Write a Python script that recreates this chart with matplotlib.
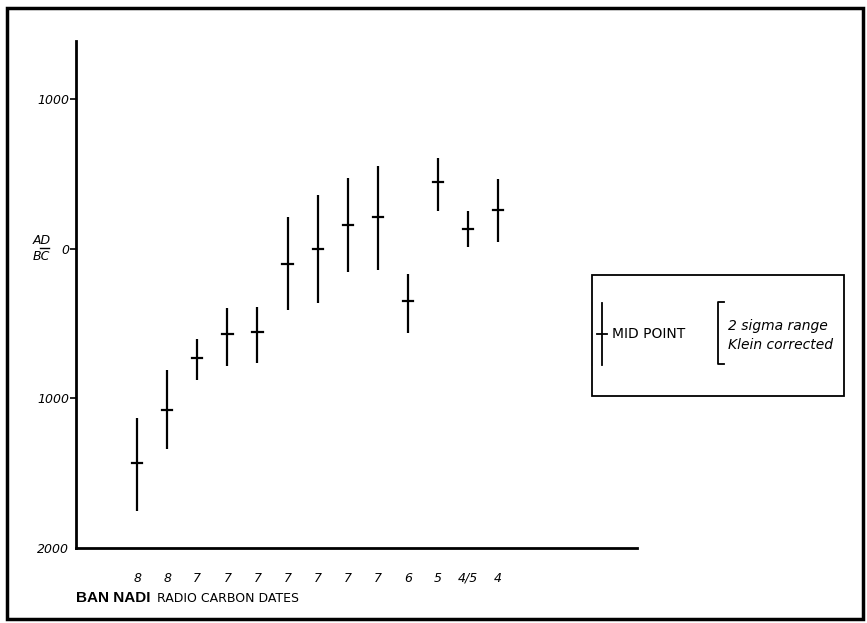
import matplotlib.pyplot as plt
from matplotlib.patches import Rectangle
from matplotlib.lines import Line2D

# radiocarbon dates, years AD (+) / BC (-)
layers = ["8", "8", "7", "7", "7", "7", "7", "7", "7", "6", "5", "4/5", "4"]
mid_points = [-1435, -1075, -730, -570, -555, -100, 0, 160, 210, -350, 445, 135, 260]
range_top = [-1130, -810, -605, -395, -390, 215, 360, 470, 555, -170, 605, 255, 465]
range_bottom = [-1750, -1335, -880, -785, -765, -410, -360, -155, -140, -565, 250, 15, 45]

y_ticks = [1000, 0, -1000, -2000]
y_tick_labels = ["1000", "0", "1000", "2000"]

W, H = 867, 623
fig = plt.figure(figsize=(8.67, 6.23), dpi=100)
ax = fig.add_axes([76 / W, 1 - 548 / H, (637 - 76) / W, (548 - 41) / H])

xs = list(range(1, len(layers) + 1))
for x, m, t, b in zip(xs, mid_points, range_top, range_bottom):
    ax.plot([x, x], [b, t], color="black", lw=1.6, solid_capstyle="butt")
    ax.plot([x - 0.17, x + 0.17], [m, m], color="black", lw=1.6)

ax.set_xlim(-1.03, 17.61)
ax.set_ylim(-2000, 1389)

ax.spines["top"].set_visible(False)
ax.spines["right"].set_visible(False)
ax.spines["left"].set_linewidth(2)
ax.spines["bottom"].set_linewidth(2)

ax.set_xticks(xs)
ax.set_xticklabels(layers, fontstyle="italic", fontsize=9)
ax.tick_params(axis="x", length=0, pad=17)

ax.set_yticks(y_ticks)
ax.set_yticklabels(y_tick_labels, fontstyle="italic", fontsize=9)
ax.tick_params(axis="y", length=4, width=1.2, pad=1)
ax.yaxis.get_major_ticks()[-1].tick1line.set_visible(False)

# AD / BC label next to 0
fig.text(33 / W, 1 - 240 / H, "AD", fontstyle="italic", fontsize=9, va="center")
fig.text(33 / W, 1 - 256 / H, "BC", fontstyle="italic", fontsize=9, va="center")
fig.add_artist(Line2D([40 / W, 49 / W], [1 - 248 / H, 1 - 248 / H],
                      transform=fig.transFigure, color="black", lw=1))

# title
fig.text(76 / W, 1 - 598 / H, "BAN NADI", fontsize=11, fontweight="bold",
         family="Liberation Sans", va="center")
fig.text(157 / W, 1 - 598 / H, "RADIO CARBON DATES", fontsize=9, va="center")

# legend box
fig.add_artist(Rectangle((592 / W, 1 - 396 / H), (844 - 592) / W, (396 - 275) / H,
                         transform=fig.transFigure, fill=False, ec="black", lw=1.3))
fig.add_artist(Line2D([602 / W, 602 / W], [1 - 303 / H, 1 - 365 / H],
                      transform=fig.transFigure, color="black", lw=1.3))
fig.add_artist(Line2D([597 / W, 607 / W], [1 - 334 / H, 1 - 334 / H],
                      transform=fig.transFigure, color="black", lw=1.3))
fig.text(612 / W, 1 - 334 / H, "MID POINT", fontsize=10, va="center")
fig.add_artist(Line2D([724 / W, 718 / W, 718 / W, 724 / W],
                      [1 - 302 / H, 1 - 302 / H, 1 - 364 / H, 1 - 364 / H],
                      transform=fig.transFigure, color="black", lw=1.3))
fig.text(728 / W, 1 - 326 / H, "2 sigma range", fontsize=10, fontstyle="italic", va="center")
fig.text(728 / W, 1 - 345 / H, "Klein corrected", fontsize=10, fontstyle="italic", va="center")

# outer frame
fig.add_artist(Rectangle((7 / W, 1 - 619 / H), (863 - 7) / W, (619 - 8) / H,
                         transform=fig.transFigure, fill=False, ec="black", lw=2.5))

fig.savefig("out.png", dpi=100)
